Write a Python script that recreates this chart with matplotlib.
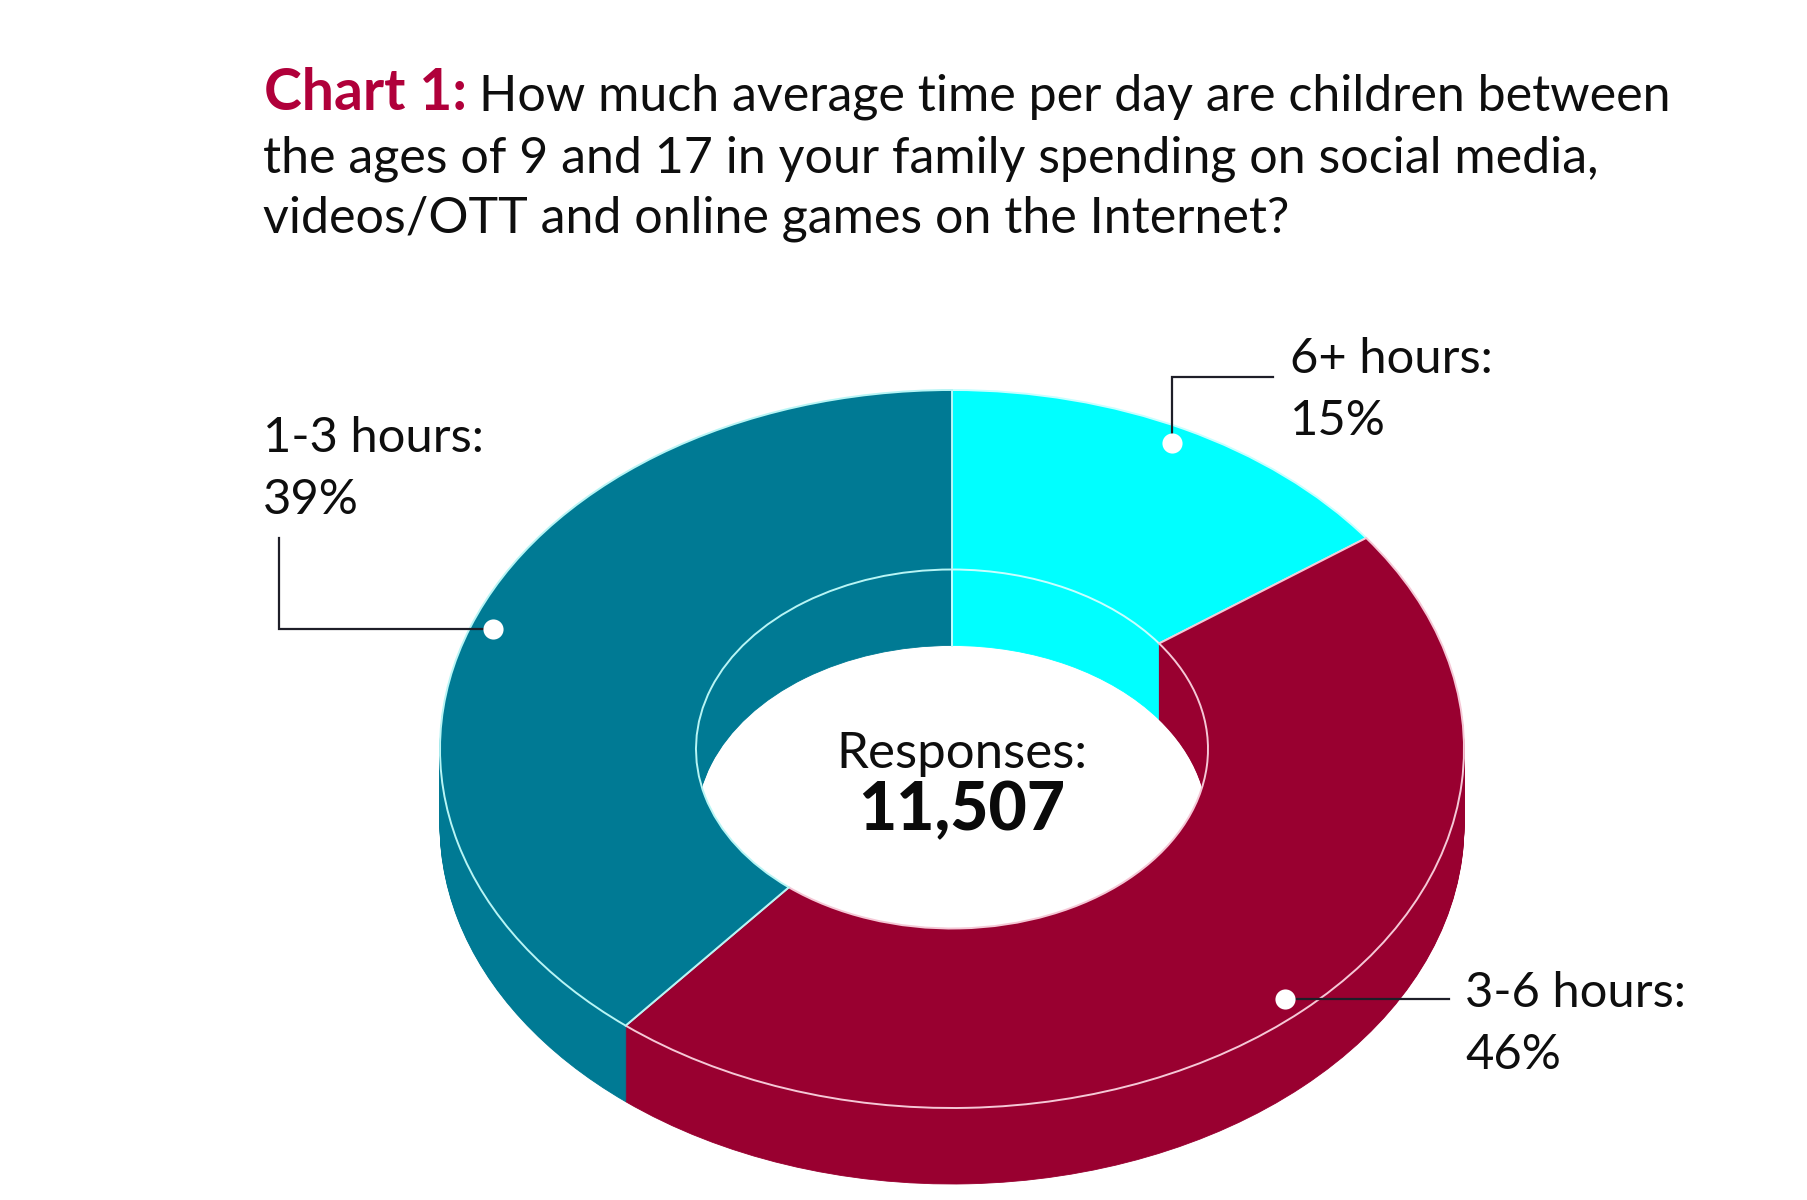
import numpy as np
import matplotlib
matplotlib.use('Agg')
import matplotlib.pyplot as plt

# chart values
categories = ['6+ hours', '3-6 hours', '1-3 hours']
shares = [15, 46, 39]
colors = ['#00FFFF', '#990030', '#007A94']
edge_colors = ['#C8FFFF', '#F5C8D6', '#B8F5F5']
responses = '11,507'

title_head = 'Chart 1:'
title_lines = ['How much average time per day are children between',
               'the ages of 9 and 17 in your family spending on social media,',
               'videos/OTT and online games on the Internet?']

W, H = 1808, 1200
cx, cy = 952, 749
rx, ry = 512, 359
depth = 76

plt.rcParams['font.family'] = ['Lato', 'DejaVu Sans']

fig = plt.figure(figsize=(W / 100, H / 100), dpi=100, facecolor='white')

# pie axes: one data unit is rx pixels across and ry pixels down, which squashes the ring
ax = fig.add_axes([0, 0, 1, 1])
for offset in range(depth, -1, -1):
    top = offset == 0
    wedges, _ = ax.pie(shares, colors=colors, startangle=90, counterclock=False,
                       radius=1, center=(0, -offset / ry),
                       wedgeprops=dict(width=0.5, linewidth=0.6))
    for w, c, e in zip(wedges, colors, edge_colors):
        w.set_edgecolor(c)
        if top:
            w.set_edgecolor(e)
            w.set_linewidth(1.4)
ax.set_aspect('auto')
ax.set_xlim(-cx / rx, (W - cx) / rx)
ax.set_ylim(-(H - cy) / ry, cy / ry)
ax.axis('off')

# overlay in image pixels for text and leaders
ov = fig.add_axes([0, 0, 1, 1])
ov.set_xlim(0, W)
ov.set_ylim(H, 0)
ov.axis('off')
ov.patch.set_alpha(0)

# seam down the inner wall at 12 o'clock
ov.plot([cx, cx], [cy - ry / 2, cy - ry / 2 + depth], color='#C8FFFF', lw=1.4)

title_size = 36.1
ov.text(264, 110, title_head, fontsize=41, fontweight='bold', color='#B0003A', va='baseline')
ov.text(479, 110, title_lines[0], fontsize=title_size, color='#0E0E0E', va='baseline')
ov.text(263, 172, title_lines[1], fontsize=title_size, color='#0E0E0E', va='baseline')
ov.text(263, 233, title_lines[2], fontsize=title_size, color='#0E0E0E', va='baseline')

ov.text(962, 768, 'Responses:', fontsize=36.7, color='#0E0E0E', ha='center', va='baseline')
ov.text(962, 830, responses, fontsize=47.5, fontweight='black', color='#0A0A0A', ha='center', va='baseline')

# label anchors: text x, first baseline, leader path ending at the dot
label_layout = {
    '6+ hours': (1290, 373, [(1273, 377), (1172, 377), (1172, 443)]),
    '1-3 hours': (263, 452, [(279, 538), (279, 629), (493, 629)]),
    '3-6 hours': (1465, 1007, [(1449, 999), (1285, 999)]),
}
for name, share in zip(categories, shares):
    tx, ty, path = label_layout[name]
    ov.text(tx, ty, name + ':', fontsize=35.2, color='#0E0E0E', va='baseline')
    ov.text(tx, ty + 62, f'{share}%', fontsize=35.2, color='#0E0E0E', va='baseline')
    xs = [p[0] for p in path]
    ys = [p[1] for p in path]
    ov.plot(xs, ys, color='#1E1E28', lw=1.6, solid_joinstyle='miter')
    ov.plot(xs[-1], ys[-1], 'o', color='white', ms=14.5, mew=0)

fig.savefig('out.png', dpi=100, facecolor='white')
plt.close()
